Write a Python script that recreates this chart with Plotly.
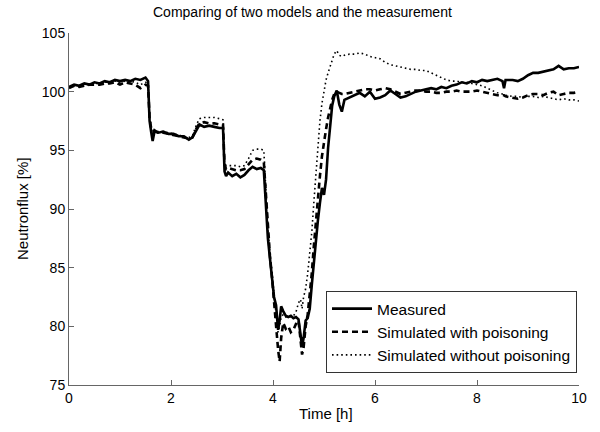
import plotly.graph_objects as go

time_h = [0.0, 0.1, 0.2, 0.3, 0.4, 0.5, 0.6, 0.7, 0.8, 0.9,
          1.0, 1.1, 1.2, 1.3, 1.4, 1.5, 1.55, 1.58, 1.61, 1.64,
          1.68, 1.75, 1.85, 1.95, 2.05, 2.15, 2.25, 2.35, 2.42, 2.5,
          2.56, 2.65, 2.75, 2.85, 2.95, 3.02, 3.05, 3.08, 3.12, 3.2,
          3.28, 3.36, 3.44, 3.52, 3.6, 3.68, 3.76, 3.82, 3.86, 3.9,
          3.94, 3.98, 4.02, 4.06, 4.1, 4.13, 4.16, 4.2, 4.25, 4.3,
          4.35, 4.4, 4.45, 4.5, 4.54, 4.57, 4.6, 4.64, 4.68, 4.72,
          4.76, 4.8, 4.84, 4.88, 4.92, 4.96, 5.0, 5.04, 5.08, 5.12,
          5.16, 5.2, 5.25, 5.3, 5.35, 5.4, 5.5, 5.6, 5.7, 5.8,
          5.9, 6.0, 6.1, 6.2, 6.3, 6.4, 6.5, 6.6, 6.7, 6.8,
          6.9, 7.0, 7.1, 7.2, 7.3, 7.4, 7.5, 7.6, 7.7, 7.8,
          7.9, 8.0, 8.1, 8.2, 8.3, 8.4, 8.5, 8.53, 8.56, 8.7,
          8.8, 8.9, 9.0, 9.1, 9.2, 9.3, 9.4, 9.5, 9.6, 9.7,
          9.8, 9.9, 10.0]

measured = [100.4, 100.6, 100.5, 100.7, 100.6, 100.8, 100.7, 100.9, 100.8, 101.0,
            100.9, 101.0, 100.9, 101.1, 101.0, 101.2, 100.9, 97.5, 96.6, 95.8,
            96.7, 96.5, 96.6, 96.4, 96.4, 96.2, 96.2, 95.9, 96.1, 96.8,
            97.2, 97.0, 97.1, 97.0, 96.9, 96.9, 93.2, 92.8, 93.1, 92.8,
            93.0, 92.7, 92.9, 93.3, 93.6, 93.4, 93.5, 93.3, 90.5, 87.5,
            85.8, 84.0, 82.5, 81.8, 79.7, 80.5, 81.7, 81.3, 80.9, 80.8,
            80.9, 80.7, 80.8, 80.6, 79.5, 78.3, 79.0, 80.5, 80.7, 81.5,
            83.5, 85.5, 87.3, 89.0, 90.5, 91.8, 91.2, 92.5, 95.2, 97.0,
            98.8, 99.6, 100.1, 98.9, 98.3, 99.3, 99.5, 99.7, 99.9, 99.6,
            100.0, 99.4, 99.5, 99.7, 100.1, 99.8, 99.5, 99.6, 99.8, 100.0,
            100.1, 100.2, 100.3, 100.2, 100.4, 100.3, 100.5, 100.6, 100.8, 100.7,
            100.9, 100.8, 101.0, 100.9, 101.0, 101.1, 100.9, 100.3, 101.0, 101.0,
            100.9, 101.1, 101.4, 101.6, 101.6, 101.7, 101.8, 101.9, 102.2, 101.9,
            102.0, 102.0, 102.1]

sim_poisoning = [100.3, 100.5, 100.4, 100.5, 100.6, 100.6, 100.6, 100.7, 100.7, 100.8,
                 100.6, 100.8, 100.7, 100.6, 100.3, 100.6, 100.5, 97.8, 96.9, 96.6,
                 96.6, 96.5, 96.5, 96.4, 96.3, 96.2, 96.1, 96.0, 96.1, 96.9,
                 97.3, 97.4, 97.3, 97.3, 97.2, 97.2, 93.8, 93.4, 93.5, 93.4,
                 93.3, 93.3, 93.4, 93.8, 94.2, 94.3, 94.2, 94.0, 91.0, 88.0,
                 86.0, 84.2, 82.0, 80.5, 78.0, 77.0, 79.0, 80.3, 79.8, 80.0,
                 79.5, 79.7, 80.2, 80.5, 79.0, 77.6, 78.2, 80.0, 81.0, 82.5,
                 84.5, 86.8, 89.0, 91.0, 92.8, 94.5, 95.8, 96.8, 97.8, 98.6,
                 99.3, 99.8, 100.0, 99.9, 99.8, 99.8, 99.9, 100.0, 100.1, 100.2,
                 100.2, 100.1, 100.2, 100.3, 100.2, 100.0, 99.8, 99.9, 100.0, 100.1,
                 100.1, 100.0, 100.0, 99.9, 99.9, 100.0, 100.0, 100.1, 100.0, 100.0,
                 100.0, 100.1, 100.0, 99.9, 99.8, 99.7, 99.7, 99.7, 99.6, 99.5,
                 99.4, 99.5, 99.7, 99.8, 99.8, 99.7, 99.9, 100.0, 99.7, 99.8,
                 99.9, 99.9, 100.0]

sim_no_poisoning = [100.4, 100.5, 100.5, 100.6, 100.6, 100.7, 100.7, 100.8, 100.8, 100.9,
                    100.8, 100.9, 100.9, 100.8, 100.6, 100.8, 100.7, 97.9, 97.0, 96.7,
                    96.7, 96.6, 96.6, 96.5, 96.4, 96.3, 96.2, 96.1, 96.2, 97.2,
                    97.7, 97.8, 97.8, 97.8, 97.7, 97.6, 94.0, 93.7, 93.7, 93.7,
                    93.7, 93.6, 93.7, 94.3, 95.0, 95.1, 95.1, 95.0, 91.5, 88.3,
                    86.3, 84.4, 82.3, 81.0, 79.5, 80.0, 80.8, 81.0, 80.8, 80.9,
                    80.8, 80.9, 81.2, 82.0, 82.3, 81.5, 82.5, 83.2, 84.5, 86.0,
                    88.0, 90.5, 93.0, 95.8, 97.5, 99.0, 100.2, 101.0, 101.6, 102.2,
                    102.8, 103.2, 103.5, 103.1, 103.0, 103.1, 103.2, 103.2, 103.3, 103.2,
                    103.0, 102.9, 102.8, 102.5, 102.3, 102.2, 102.1, 102.0, 101.9, 101.9,
                    101.8, 101.8, 101.6, 101.4, 101.2, 101.0, 100.9, 100.9, 100.8, 100.8,
                    100.7, 100.6, 100.5, 100.3, 100.1, 99.9, 99.8, 99.8, 99.7, 99.6,
                    99.6, 99.5, 99.6, 99.6, 99.5, 99.6, 99.5, 99.4, 99.3, 99.4,
                    99.3, 99.3, 99.2]

series_names = ["Measured", "Simulated with poisoning", "Simulated without poisoning"]
x_ticks = [0, 2, 4, 6, 8, 10]
y_ticks = [75, 80, 85, 90, 95, 100, 105]

assert len(time_h) == len(measured) == len(sim_poisoning) == len(sim_no_poisoning)

FONT = "Liberation Sans, Arial, Helvetica, sans-serif"
W, H = 600, 432
ML, MR, MT, MB = 69, 21, 33, 47
PW, PH = W - ML - MR, H - MT - MB

fig = go.Figure()
fig.add_trace(go.Scatter(x=time_h, y=measured, mode="lines", name=series_names[0],
                         line=dict(color="black", width=2.6, dash="solid")))
fig.add_trace(go.Scatter(x=time_h, y=sim_poisoning, mode="lines", name=series_names[1],
                         line=dict(color="black", width=2.6, dash="6px,4px")))
fig.add_trace(go.Scatter(x=time_h, y=sim_no_poisoning, mode="lines", name=series_names[2],
                         line=dict(color="black", width=1.6, dash="1.6px,3px")))

axis_common = dict(showline=True, linecolor="#666666", linewidth=1, mirror=False,
                   ticks="inside", ticklen=5, tickcolor="#666666", showgrid=False,
                   zeroline=False, automargin=False,
                   tickfont=dict(family=FONT, size=14, color="black"))

fig.update_layout(
    width=W, height=H,
    margin=dict(l=ML, r=MR, t=MT, b=MB, autoexpand=False),
    paper_bgcolor="white", plot_bgcolor="white",
    font=dict(family=FONT, size=14, color="black"),
    xaxis=dict(range=[0, 10], tickvals=x_ticks, ticktext=[str(v) for v in x_ticks],
               **axis_common),
    yaxis=dict(range=[75, 105], tickvals=y_ticks, ticktext=[str(v) for v in y_ticks],
               **axis_common),
    legend=dict(x=(577 - ML) / PW, y=(H - MB - 373) / PH, xanchor="right", yanchor="bottom",
                bgcolor="white", bordercolor="#333333", borderwidth=1,
                font=dict(family=FONT, size=15.5, color="black"),
                tracegroupgap=0, itemwidth=40),
    showlegend=True,
    annotations=[
        dict(text="Comparing of two models and the measurement", xref="paper", yref="paper",
             x=(302 - ML) / PW, y=1 + (MT - 12) / PH, xanchor="center", yanchor="middle",
             showarrow=False, font=dict(family=FONT, size=14, color="black")),
        dict(text="Time [h]", xref="paper", yref="paper",
             x=(326 - ML) / PW, y=-(413 - (H - MB)) / PH, xanchor="center", yanchor="middle",
             showarrow=False, font=dict(family=FONT, size=15, color="black")),
        dict(text="Neutronflux [%]", xref="paper", yref="paper", textangle=-90,
             x=-(ML - 22) / PW, y=0.5, xanchor="center", yanchor="middle",
             showarrow=False, font=dict(family=FONT, size=15, color="black")),
    ],
)

fig.write_html("out.html", config={"displayModeBar": False},
               post_script="document.body.style.margin='0px';document.body.style.padding='0px';")
